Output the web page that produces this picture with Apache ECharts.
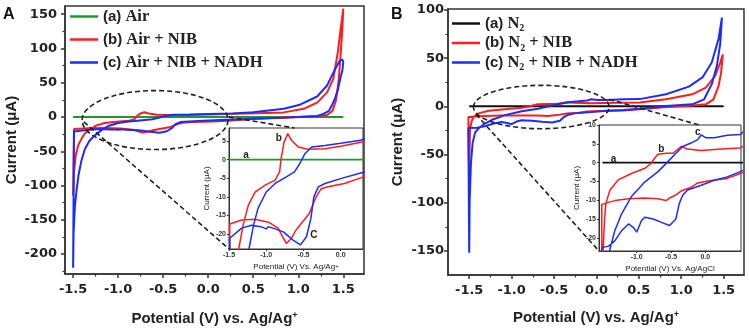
<!DOCTYPE html>
<html>
<head>
<meta charset="utf-8">
<script src="https://cdn.jsdelivr.net/npm/echarts@6/dist/echarts.min.js"></script>
<style>
html, body { margin: 0; padding: 0; background: #fff; }
#chart { width: 749px; height: 335px; }
</style>
</head>
<body>
<div id="chart"></div>
<script>
// curves: [potential (V), current (uA)], swept in order
const airA = [[-1.5, 0], [1.5, 0]];
const airNibA = [
  [-1.5, -115], [-1.49, -80], [-1.47, -55], [-1.44, -40], [-1.4, -30], [-1.37, -24], [-1.31, -17.6],
  [-1.24, -12.2], [-1.15, -8.7], [-1.02, -6.9], [-0.88, -5.5], [-0.82, -3.3], [-0.8, 0.3], [-0.76, 4.7],
  [-0.71, 7.0], [-0.66, 5.2], [-0.57, 3.4], [-0.44, 2.8], [-0.21, 2.9], [0.0, 3.6], [0.27, 4.7],
  [0.55, 5.5], [0.84, 6.8], [1.06, 12], [1.21, 21], [1.32, 36], [1.39, 56], [1.44, 95], [1.47, 128],
  [1.5, 158],
  [1.49, 130], [1.47, 90], [1.45, 55], [1.42, 25], [1.38, 9], [1.32, 3], [1.2, 1], [1.0, 0],
  [0.75, -1.2], [0.5, -2.8], [0.27, -4.9], [0.05, -6.4], [-0.17, -7.3], [-0.26, -7.8], [-0.33, -10],
  [-0.42, -14.4], [-0.51, -16.7], [-0.6, -18.9], [-0.66, -21.1], [-0.73, -22.5], [-0.77, -21.1],
  [-0.84, -18.4], [-0.97, -16.8], [-1.15, -16.0], [-1.33, -16.2], [-1.49, -17.3], [-1.5, -115]
];
const airNibNadhA = [
  [-1.5, -220], [-1.495, -170], [-1.48, -130], [-1.46, -105], [-1.44, -85], [-1.41, -65], [-1.37, -47],
  [-1.32, -35], [-1.27, -28], [-1.23, -23.8], [-1.17, -17.6], [-1.11, -13.1], [-1.0, -8.7], [-0.88, -6.4],
  [-0.73, -4.6], [-0.62, -3.3], [-0.55, -1.1], [-0.48, 1.6], [-0.39, 3.4], [-0.21, 3.8], [0.0, 4.4],
  [0.27, 5.2], [0.5, 7], [0.84, 12], [1.02, 18], [1.21, 30], [1.32, 46], [1.41, 70], [1.46, 82],
  [1.49, 84], [1.5, 80],
  [1.49, 68], [1.47, 58], [1.44, 40], [1.41, 28], [1.37, 16], [1.34, 9], [1.27, 4], [1.21, 1.5],
  [1.0, 0], [0.84, -1], [0.5, -2.5], [0.27, -3.6], [0.0, -5.1], [-0.21, -6.4], [-0.3, -7.3],
  [-0.36, -10], [-0.4, -15.8], [-0.46, -20.7], [-0.54, -22.9], [-0.64, -21.6], [-0.77, -19.4],
  [-0.91, -18.4], [-0.97, -18.0], [-1.0, -18.6], [-1.07, -18.0], [-1.2, -17.6], [-1.33, -18.4],
  [-1.49, -21.1], [-1.5, -220]
];
const n2B = [[-1.5, 0], [1.5, 0]];
const n2NibB = [
  [-1.5, -80], [-1.497, -50], [-1.49, -23], [-1.47, -15.4], [-1.45, -10.9], [-1.39, -7.3], [-1.27, -4.6],
  [-1.08, -2.9], [-0.88, -1.5], [-0.79, -0.2], [-0.75, 0.9], [-0.69, 2.2], [-0.57, 2.5], [-0.47, 2.5],
  [-0.35, 4.3], [-0.26, 3.6], [-0.06, 3.2], [0.23, 3.6], [0.51, 3.9], [0.82, 7.3], [1.13, 12.5],
  [1.29, 19.5], [1.4, 31.6], [1.46, 45.5], [1.49, 54],
  [1.47, 35], [1.44, 21], [1.38, 7.3], [1.29, 2.1], [1.1, 0.5], [0.8, -1], [0.51, -2.9], [0.32, -4.2],
  [0.03, -4.9], [-0.11, -5.4], [-0.21, -6.6], [-0.35, -7.5], [-0.43, -8.6], [-0.52, -9.4], [-0.57, -10.1],
  [-0.69, -9.6], [-0.88, -9.4], [-1.12, -9.6], [-1.32, -10.1], [-1.51, -11.1], [-1.5, -80]
];
const n2NibNadhB = [
  [-1.5, -152], [-1.495, -100], [-1.48, -60], [-1.46, -38], [-1.43, -27], [-1.39, -23], [-1.32, -18.1],
  [-1.22, -13.6], [-1.08, -9.1], [-0.88, -5.1], [-0.69, -2.4], [-0.57, -0.2], [-0.45, 2.1], [-0.33, 4.3],
  [-0.21, 5.2], [-0.11, 6.1], [-0.06, 7.4], [0.01, 6.6], [0.13, 6.6], [0.32, 7.3], [0.51, 7.5],
  [0.82, 12.5], [1.09, 20.5], [1.25, 30], [1.36, 45.5], [1.44, 70], [1.48, 92],
  [1.46, 65], [1.42, 42], [1.36, 23], [1.27, 7.3], [1.13, 2.1], [0.82, 0.3], [0.51, -2.4], [0.32, -3.8],
  [0.13, -4.7], [-0.06, -6.0], [-0.26, -7.3], [-0.33, -8.7], [-0.38, -10.9], [-0.43, -15], [-0.52, -16.7],
  [-0.64, -15.9], [-0.76, -15], [-0.88, -14.5], [-0.93, -15.4], [-1.0, -18.5], [-1.05, -17.2],
  [-1.12, -16.3], [-1.22, -18.1], [-1.32, -20.8], [-1.41, -22.2], [-1.51, -22.6], [-1.5, -152]
];

// tick values
const xTicksMain = [-1.5, -1, -0.5, 0, 0.5, 1, 1.5];
const xMinorMain = [-1.25, -0.75, -0.25, 0.25, 0.75, 1.25];
const yTicksA = [-200, -150, -100, -50, 0, 50, 100, 150];
const yMinorA = [-225, -175, -125, -75, -25, 25, 75, 125];
const yTicksB = [-150, -100, -50, 0, 50, 100];
const yMinorB = [-125, -75, -25, 25, 75];
const xTicksInsetA = [-1.5, -1, -0.5, 0];
const yTicksInsetA = [-20, -15, -10, -5, 0, 5];
const xTicksInsetB = [-1, -0.5, 0];
const yTicksInsetB = [-20, -15, -10, -5, 0, 5, 10];

const legendA = { aA: '{p|(a)}{t| Air}', bA: '{p|(b)}{t| Air + NIB}', cA: '{p|(c)}{t| Air + NIB + NADH}' };
const legendB = {
  aB: '{p|(a)}{t| N}{s|2}',
  bB: '{p|(b)}{t| N}{s|2}{t| + NIB}',
  cB: '{p|(c)}{t| N}{s|2}{t| + NIB + NADH}'
};
const insetMarksA = [['a', -1.27, 1.3], ['b', -0.83, 5.8], ['C', -0.36, -20.3]];
const insetMarksB = [['a', -1.34, 1.0], ['b', -0.64, 3.5], ['c', -0.11, 8.2]];

const RED = '#ff1c1c';
const BLUE = '#1c2cff';
const GREEN = '#1e9a26';
const BLACK = '#111';
const AXIS = '#333';

const chart = echarts.init(document.getElementById('chart'));

const tickFont = { fontFamily: 'DejaVu Sans', fontWeight: 'bold', fontSize: 13, color: '#222' };
const nameFont = {
  fontFamily: 'Liberation Sans', fontWeight: 'bold', fontSize: 15, color: '#222',
  rich: { sup: { fontFamily: 'Liberation Sans', fontWeight: 'bold', fontSize: 9, color: '#222', verticalAlign: 'top', lineHeight: 9 } }
};
const insetTick = { fontFamily: 'Liberation Sans', fontWeight: 'bold', fontSize: 7, color: '#333', margin: 3 };
const insetName = {
  fontFamily: 'Liberation Sans', fontSize: 8, color: '#222',
  rich: { sup: { fontFamily: 'Liberation Sans', fontSize: 6, color: '#222', verticalAlign: 'top', lineHeight: 6 } }
};

const mainX = (gridIndex, min, max, nameGap) => ({
  gridIndex, type: 'value', min, max, position: 'bottom',
  name: 'Potential (V) vs. Ag/Ag{sup|+}', nameLocation: 'middle', nameGap, nameTextStyle: nameFont,
  axisLine: { show: true, onZero: false, lineStyle: { color: AXIS, width: 1.5 } },
  axisTick: { show: true, length: 4, customValues: xTicksMain, lineStyle: { color: AXIS, width: 1.5 } },
  axisLabel: { ...tickFont, margin: 9, customValues: xTicksMain, formatter: (v) => v.toFixed(1) },
  splitLine: { show: false }
});
const minorX = (gridIndex, min, max) => ({
  gridIndex, type: 'value', min, max, position: 'bottom',
  axisLine: { show: false, onZero: false },
  axisTick: { show: true, length: 2.5, customValues: xMinorMain, lineStyle: { color: AXIS, width: 1.2 } },
  axisLabel: { show: false }, splitLine: { show: false }
});
const mainY = (gridIndex, min, max, ticks, nameGap, margin) => ({
  gridIndex, type: 'value', min, max, position: 'left',
  name: 'Current (\u03bcA)', nameLocation: 'middle', nameGap, nameTextStyle: nameFont,
  axisLine: { show: true, onZero: false, lineStyle: { color: AXIS, width: 1.5 } },
  axisTick: { show: true, length: 4, customValues: ticks, lineStyle: { color: AXIS, width: 1.5 } },
  axisLabel: { ...tickFont, margin, customValues: ticks },
  splitLine: { show: false }
});
const minorY = (gridIndex, min, max, ticks) => ({
  gridIndex, type: 'value', min, max, position: 'left',
  axisLine: { show: false, onZero: false },
  axisTick: { show: true, length: 2.5, customValues: ticks, lineStyle: { color: AXIS, width: 1.2 } },
  axisLabel: { show: false }, splitLine: { show: false }
});
const insetX = (gridIndex, min, max, ticks, name) => ({
  gridIndex, type: 'value', min, max, position: 'bottom',
  name, nameLocation: 'middle', nameGap: 14, nameTextStyle: insetName,
  axisLine: { show: true, onZero: false, lineStyle: { color: AXIS, width: 1 } },
  axisTick: { show: true, length: 2, customValues: ticks, lineStyle: { color: AXIS } },
  axisLabel: { ...insetTick, customValues: ticks, formatter: (v) => v.toFixed(1) },
  splitLine: { show: false }
});
const insetY = (gridIndex, min, max, ticks) => ({
  gridIndex, type: 'value', min, max, position: 'left',
  name: 'Current (\u03bcA)', nameLocation: 'middle', nameGap: 18, nameTextStyle: insetName,
  axisLine: { show: true, onZero: false, lineStyle: { color: AXIS, width: 1 } },
  axisTick: { show: true, length: 2, customValues: ticks, lineStyle: { color: AXIS } },
  axisLabel: { ...insetTick, customValues: ticks },
  splitLine: { show: false }
});

const curve = (name, data, color, axis, width) => ({
  name, type: 'line', data, xAxisIndex: axis, yAxisIndex: axis,
  symbol: 'none', clip: true, animation: false,
  lineStyle: { color, width }, itemStyle: { color }
});

const legendRich = {
  p: { fontFamily: 'Liberation Sans', fontWeight: 'bold', fontSize: 15, color: '#222', lineHeight: 20 },
  t: { fontFamily: 'Liberation Serif', fontWeight: 'bold', fontSize: 16.5, color: '#222', lineHeight: 20 },
  s: { fontFamily: 'Liberation Serif', fontWeight: 'bold', fontSize: 10, color: '#222', lineHeight: 10, verticalAlign: 'bottom' }
};

chart.setOption({
  animation: false,
  backgroundColor: '#fff',
  grid: [
    { left: 65, top: 6, width: 299, height: 268, show: true, borderColor: AXIS, borderWidth: 1.5, backgroundColor: '#fff' },
    { left: 448, top: 9, width: 296, height: 266, show: true, borderColor: AXIS, borderWidth: 1.5, backgroundColor: '#fff' },
    { left: 229, top: 128, width: 134, height: 121, show: true, borderColor: AXIS, borderWidth: 1, backgroundColor: '#fff' },
    { left: 599, top: 125, width: 142, height: 126, show: true, borderColor: AXIS, borderWidth: 1, backgroundColor: '#fff' }
  ],
  xAxis: [
    mainX(0, -1.59, 1.73, 37),
    minorX(0, -1.59, 1.73),
    mainX(1, -1.75, 1.74, 35),
    minorX(1, -1.75, 1.74),
    insetX(2, -1.5, 0.3, xTicksInsetA, 'Potential (V) Vs. Ag/Ag{sup|+}'),
    insetX(3, -1.55, 0.52, xTicksInsetB, 'Potential (V) Vs. Ag/AgCl')
  ],
  yAxis: [
    mainY(0, -229, 162, yTicksA, 46, 8),
    minorY(0, -229, 162, yMinorA),
    mainY(1, -175, 101, yTicksB, 43, 4),
    minorY(1, -175, 101, yMinorB),
    insetY(2, -24, 8.5, yTicksInsetA),
    insetY(3, -23.5, 10, yTicksInsetB)
  ],
  legend: [
    {
      left: 65, top: 3, orient: 'vertical', icon: 'rect', itemWidth: 28, itemHeight: 2.5, itemGap: 6,
      selectedMode: false, data: ['aA', 'bA', 'cA'],
      formatter: (n) => legendA[n], textStyle: { rich: legendRich }
    },
    {
      left: 447, top: 10, orient: 'vertical', icon: 'rect', itemWidth: 28, itemHeight: 2.5, itemGap: 1,
      selectedMode: false, data: ['aB', 'bB', 'cB'],
      formatter: (n) => legendB[n], textStyle: { rich: legendRich }
    }
  ],
  series: [
    curve('aA', airA, GREEN, 0, 2),
    curve('bA', airNibA, RED, 0, 2),
    curve('cA', airNibNadhA, BLUE, 0, 2),
    curve('aA', airA, GREEN, 4, 1.6),
    curve('bA', airNibA, RED, 4, 1.5),
    curve('cA', airNibNadhA, BLUE, 4, 1.5),
    curve('aB', n2B, BLACK, 2, 2),
    curve('bB', n2NibB, RED, 2, 2),
    curve('cB', n2NibNadhB, BLUE, 2, 2),
    curve('aB', n2B, BLACK, 5, 1.6),
    curve('bB', n2NibB, RED, 5, 1.5),
    curve('cB', n2NibNadhB, BLUE, 5, 1.5)
  ]
});

// callouts: dashed ellipse on the main plot linked to the inset
const toPx = (axis, pt) => chart.convertToPixel({ xAxisIndex: axis, yAxisIndex: axis }, pt);
const dash = { stroke: '#222', lineWidth: 1.6, lineDash: [5, 3], fill: null };
const callout = (axis, insetAxis, center, radius, from1, to1, from2, to2) => {
  const c = toPx(axis, center);
  const e = toPx(axis, [center[0] + radius[0], center[1] + radius[1]]);
  const a1 = toPx(axis, from1), b1 = toPx(insetAxis, to1);
  const a2 = toPx(axis, from2), b2 = toPx(insetAxis, to2);
  return [
    { type: 'ellipse', z: 50, shape: { cx: c[0], cy: c[1], rx: e[0] - c[0], ry: c[1] - e[1] }, style: dash },
    { type: 'line', z: 50, shape: { x1: a1[0], y1: a1[1], x2: b1[0], y2: b1[1] }, style: dash },
    { type: 'line', z: 50, shape: { x1: a2[0], y1: a2[1], x2: b2[0], y2: b2[1] }, style: dash }
  ];
};
const marks = (axis, list) => list.map(([t, x, y]) => {
  const p = toPx(axis, [x, y]);
  return {
    type: 'text', z: 60, x: p[0], y: p[1],
    style: { text: t, fill: '#222', font: 'bold 10px "Liberation Sans"', align: 'center', verticalAlign: 'middle' }
  };
});

chart.setOption({
  graphic: [
    { type: 'text', z: 60, left: 3, top: 7, style: { text: 'A', fill: '#111', font: 'bold 16px "Liberation Sans"' } },
    { type: 'text', z: 60, left: 391, top: 7, style: { text: 'B', fill: '#111', font: 'bold 16px "Liberation Sans"' } },
    ...callout(0, 4, [-0.59, -4.4], [0.81, 43], [0.23, 0], [-0.62, 8.5], [-1.38, -7], [-1.5, -24]),
    ...callout(2, 5, [-0.65, -0.7], [0.8, 22.5], [0.15, 7.3], [-0.09, 10], [-1.42, -8.3], [-1.55, -23.5]),
    ...marks(4, insetMarksA),
    ...marks(5, insetMarksB)
  ]
});
</script>
</body>
</html>
